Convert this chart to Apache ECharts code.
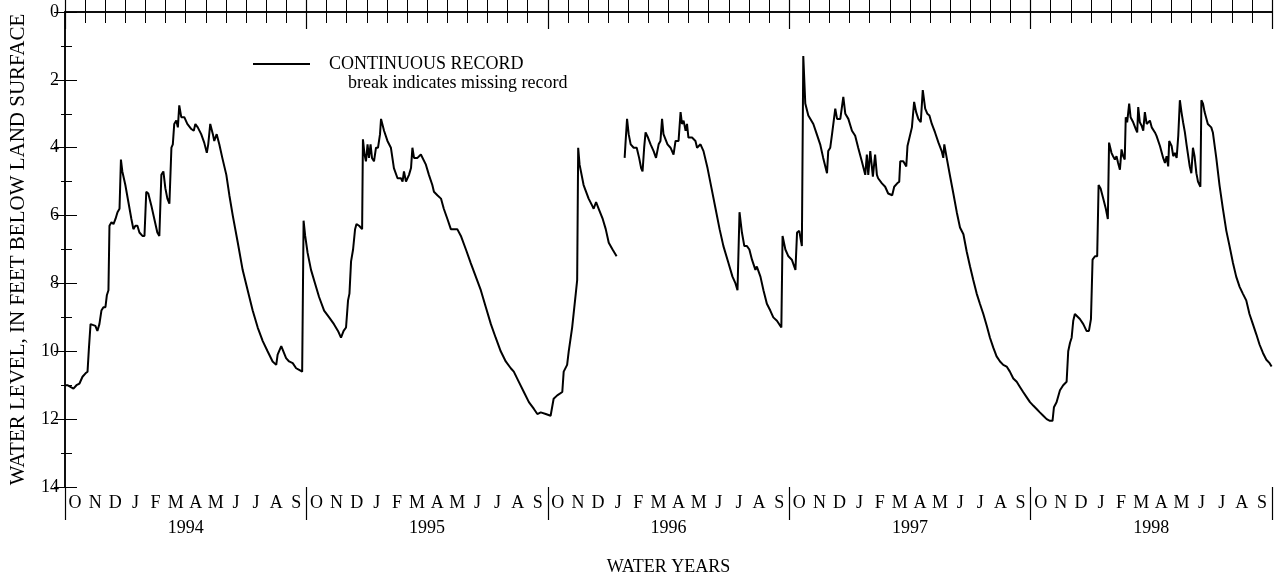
<!DOCTYPE html>
<html>
<head>
<meta charset="utf-8">
<script src="https://cdn.jsdelivr.net/npm/echarts@6/dist/echarts.min.js"></script>
<style>
html,body{margin:0;padding:0;background:#fff;}
#chart{width:1278px;height:581px;}
</style>
</head>
<body>
<div id="chart"></div>
<script>
// x = months since 1 Oct 1993 (start of water year 1994); y = feet below land surface
const monthLabels = ['O','N','D','J','F','M','A','M','J','J','A','S'];
const waterYears = ['1994','1995','1996','1997','1998'];
const yTicks = [0, 2, 4, 6, 8, 10, 12, 14];

const months1994 = [0.00,0.12,0.27,0.42,0.57,0.72,0.87,1.02,1.12,1.19,1.27,1.36,1.51,1.61,1.71,1.81,1.91,2.01,2.08,2.16,2.21,2.31,2.41,2.51,2.61,2.71,2.78,2.85,3.00,3.15,3.30,3.40,3.50,3.60,3.70,3.85,3.95,4.04,4.14,4.29,4.44,4.59,4.69,4.79,4.89,4.99,5.09,5.19,5.29,5.36,5.43,5.53,5.61,5.68,5.78,5.93,6.08,6.28,6.40,6.48,6.60,6.77,6.92,7.05,7.12,7.22,7.35,7.42,7.54,7.67,7.82,8.02,8.17,8.34,8.59,8.83,9.08,9.33,9.58,9.83,10.07,10.32,10.50,10.57,10.75,10.84,10.99,11.14,11.32,11.49,11.64,11.79,11.86];
const levels1994 = [11.0,11.0,11.05,11.1,11.0,10.95,10.75,10.65,10.6,9.9,9.2,9.15,9.25,9.4,9.2,8.8,8.7,8.7,8.35,8.2,6.3,6.2,6.25,6.1,5.9,5.8,4.35,4.7,5.1,5.6,6.1,6.4,6.3,6.3,6.5,6.6,6.6,5.3,5.35,5.7,6.1,6.5,6.6,4.8,4.7,5.2,5.5,5.65,4.0,3.9,3.3,3.2,3.4,2.75,3.1,3.1,3.3,3.45,3.5,3.3,3.4,3.6,3.85,4.15,3.9,3.3,3.6,3.8,3.6,3.9,4.3,4.8,5.4,6.0,6.8,7.6,8.2,8.8,9.3,9.7,10.0,10.3,10.4,10.1,9.85,9.9,10.2,10.3,10.35,10.5,10.55,10.6,6.15];

const months1995 = [11.94,12.06,12.23,12.43,12.63,12.88,13.13,13.37,13.57,13.72,13.85,13.97,14.07,14.14,14.22,14.32,14.42,14.49,14.62,14.77,14.81,14.89,14.96,15.04,15.11,15.19,15.26,15.36,15.46,15.56,15.66,15.71,15.86,16.03,16.20,16.35,16.53,16.70,16.78,16.85,16.95,17.02,17.10,17.20,17.27,17.35,17.52,17.69,17.77,17.94,18.09,18.26,18.34,18.51,18.69,18.83,19.01,19.18,19.33,19.50,19.68,19.93,20.17,20.42,20.67,20.92,21.17,21.41,21.66,21.91,22.16,22.31,22.56,22.81,23.06,23.31,23.48,23.65,23.90];
const levels1995 = [6.6,7.1,7.6,8.0,8.4,8.8,9.0,9.2,9.4,9.6,9.4,9.3,8.5,8.3,7.35,7.0,6.4,6.25,6.3,6.4,3.75,4.2,4.4,3.9,4.3,3.9,4.3,4.4,4.0,4.0,3.6,3.15,3.5,3.8,4.0,4.6,4.9,4.9,5.0,4.7,5.0,5.0,4.8,4.6,4.0,4.3,4.3,4.2,4.2,4.5,4.8,5.1,5.3,5.4,5.5,5.8,6.1,6.4,6.4,6.4,6.6,7.0,7.4,7.8,8.2,8.7,9.2,9.6,10.0,10.3,10.5,10.6,10.9,11.2,11.5,11.7,11.85,11.8,11.85];

// null marks the missing record (break in the line)
const months1996 = [24.14,24.29,24.47,24.72,24.79,24.96,25.04,25.21,25.39,25.46,25.51,25.58,25.78,26.03,26.20,26.28,26.40,26.53,26.73,26.88,27.03,27.22,27.42,27.60,27.82,27.87,27.94,28.02,28.12,28.27,28.42,28.54,28.64,28.71,28.79,28.86,28.98,29.11,29.26,29.38,29.51,29.60,29.68,29.75,29.95,30.10,30.25,30.35,30.50,30.60,30.67,30.75,30.85,30.92,30.99,31.17,31.34,31.42,31.59,31.74,31.94,32.14,32.34,32.54,32.73,32.98,33.18,33.33,33.43,33.53,33.65,33.77,33.90,34.02,34.15,34.32,34.39,34.57,34.72,34.89,35.06,35.21,35.39,35.61,35.67,35.81,35.96];
const levels1996 = [11.9,11.4,11.3,11.2,10.6,10.4,10.0,9.3,8.3,7.9,4.0,4.5,5.1,5.5,5.7,5.8,5.6,5.8,6.1,6.4,6.8,7.0,7.2,null,4.3,3.8,3.15,3.6,3.9,4.0,4.0,4.3,4.6,4.7,4.0,3.55,3.7,3.9,4.1,4.3,3.9,3.8,3.15,3.6,3.9,4.0,4.2,3.8,3.8,2.95,3.3,3.2,3.5,3.3,3.7,3.7,3.8,4.0,3.9,4.1,4.6,5.2,5.8,6.4,6.9,7.4,7.8,8.0,8.2,5.9,6.5,6.9,6.9,7.0,7.3,7.6,7.5,7.8,8.2,8.6,8.8,9.0,9.1,9.3,6.6,7.0,7.2];

const months1997 = [36.13,36.31,36.39,36.50,36.63,36.70,36.80,36.95,37.20,37.37,37.54,37.69,37.88,37.94,38.04,38.13,38.19,38.29,38.38,38.54,38.69,38.79,38.94,39.12,39.28,39.43,39.61,39.78,39.86,39.93,40.03,40.16,40.27,40.36,40.42,40.61,40.77,40.92,41.12,41.22,41.37,41.47,41.52,41.67,41.82,41.88,41.96,42.10,42.21,42.31,42.42,42.54,42.64,42.76,42.87,42.97,43.09,43.25,43.42,43.58,43.66,43.71,43.83,44.00,44.16,44.33,44.49,44.66,44.82,44.99,45.15,45.32,45.48,45.65,45.82,45.98,46.15,46.31,46.48,46.64,46.81,46.97,47.14,47.31,47.47,47.63,47.80,47.97];
const levels1997 = [7.3,7.6,6.5,6.45,6.9,1.3,2.7,3.05,3.3,3.6,3.9,4.3,4.75,4.1,4.0,3.6,3.6,2.85,3.15,3.15,2.5,3.0,3.15,3.5,3.65,4.0,4.4,4.8,4.2,4.8,4.1,4.85,4.2,4.8,4.9,5.05,5.15,5.35,5.4,5.15,5.05,5.0,4.4,4.4,4.55,3.95,3.9,3.4,2.65,2.95,3.15,3.25,2.3,2.85,3.0,3.05,3.3,3.55,3.85,4.1,4.3,3.9,4.3,4.85,5.35,5.9,6.35,6.55,7.05,7.5,7.9,8.3,8.6,8.9,9.25,9.6,9.9,10.15,10.3,10.4,10.45,10.6,10.8,10.9,11.05,11.2,11.35,11.5];

const months1998 = [48.13,48.30,48.46,48.63,48.80,48.96,49.09,49.16,49.29,49.46,49.62,49.79,49.87,49.96,50.04,50.12,50.20,50.29,50.45,50.62,50.78,50.90,51.00,51.08,51.20,51.31,51.38,51.48,51.61,51.74,51.84,51.90,52.02,52.10,52.19,52.27,52.35,52.44,52.52,52.60,52.68,52.73,52.80,52.90,52.97,53.10,53.23,53.30,53.35,53.43,53.52,53.60,53.68,53.77,53.85,53.93,54.02,54.10,54.18,54.26,54.43,54.59,54.68,54.76,54.84,54.89,55.01,55.09,55.17,55.26,55.34,55.42,55.50,55.58,55.67,55.75,55.91,55.99,56.07,56.15,56.24,56.32,56.44,56.49,56.57,56.65,56.81,56.98,57.06,57.23,57.39,57.56,57.73,57.89,58.06,58.22,58.39,58.55,58.72,58.88,59.05,59.22,59.38,59.55,59.72,59.88,59.98];
const levels1998 = [11.6,11.7,11.8,11.9,12.0,12.05,12.05,11.65,11.5,11.15,11.0,10.9,10.0,9.75,9.6,9.1,8.9,8.9,9.05,9.2,9.4,9.4,9.05,7.3,7.2,7.2,5.1,5.2,5.5,5.8,6.1,3.85,4.15,4.25,4.35,4.25,4.45,4.65,4.05,4.25,4.35,3.1,3.25,2.7,3.1,3.25,3.45,3.55,2.8,3.25,3.35,3.5,2.95,3.3,3.35,3.2,3.4,3.45,3.55,3.65,3.95,4.3,4.45,4.25,4.55,3.8,3.95,4.25,4.15,4.3,3.65,2.6,2.95,3.25,3.55,3.9,4.55,4.75,4.0,4.25,4.75,5.0,5.15,2.6,2.7,2.95,3.3,3.4,3.55,4.3,5.1,5.8,6.45,6.9,7.4,7.8,8.1,8.3,8.5,8.9,9.2,9.5,9.8,10.05,10.25,10.35,10.45];

const seriesName = 'CONTINUOUS RECORD';
const noteText = 'break indicates missing record';
const xTitle = 'WATER YEARS';
const yTitle = 'WATER LEVEL, IN FEET BELOW LAND SURFACE';

function pairs(ms, ls) { return ms.map((m, i) => [m, ls[i]]); }
const record = [].concat(
  pairs(months1994, levels1994), pairs(months1995, levels1995),
  pairs(months1996, levels1996), pairs(months1997, levels1997),
  pairs(months1998, levels1998));

const FONT = "'Liberation Serif', 'DejaVu Serif', serif";
const nMonths = waterYears.length * 12;
const black = '#000';

function baseX(extra) {
  return Object.assign({
    type: 'value', gridIndex: 0, min: 0, max: nMonths, position: 'bottom',
    axisLine: { show: false }, axisTick: { show: false },
    axisLabel: { show: false }, splitLine: { show: false }
  }, extra);
}

const chart = echarts.init(document.getElementById('chart'), null, { renderer: 'canvas' });
chart.setOption({
  animation: false,
  backgroundColor: '#fff',
  textStyle: { fontFamily: FONT, color: black },
  grid: { left: 63, right: 6, top: 12, bottom: 89, containLabel: false },
  legend: {
    data: [{ name: seriesName, icon: 'rect' }], left: 253, top: 55, padding: 0,
    itemWidth: 57, itemHeight: 2,
    itemStyle: { color: black, borderWidth: 0 },
    textStyle: { fontFamily: FONT, fontSize: 18, color: black, padding: [0, 0, 6, 14] }
  },
  graphic: [{
    type: 'text', left: 348, top: 74,
    style: { text: noteText, font: "18px 'Liberation Serif', serif", fill: black }
  }],
  xAxis: [
    baseX({ interval: 1,
      axisLine: { show: true, lineStyle: { color: black, width: 1.5 } },
      axisTick: { show: true, inside: true, length: 12, lineStyle: { color: black, width: 1 } },
      name: xTitle, nameLocation: 'middle', nameGap: 71,
      nameTextStyle: { fontFamily: FONT, fontSize: 18, color: black } }),
    baseX({ interval: 12,
      axisTick: { show: true, inside: true, length: 17, lineStyle: { color: black, width: 1.2 } } }),
    baseX({ interval: 12,
      axisTick: { show: true, inside: false, length: 33, lineStyle: { color: black, width: 1.2 } } }),
    baseX({ interval: 0.5,
      axisLabel: { show: true, margin: 7, fontFamily: FONT, fontSize: 18, color: black,
        formatter: v => (Math.abs(v % 1 - 0.5) < 1e-6) ? monthLabels[Math.floor(v) % 12] : '' } }),
    baseX({ interval: 6,
      axisLabel: { show: true, margin: 32, fontFamily: FONT, fontSize: 18, color: black,
        formatter: v => (v % 12 === 6) ? waterYears[Math.floor(v / 12)] : '' } }),
    baseX({ position: 'top', interval: 1,
      axisLine: { show: true, lineStyle: { color: black, width: 1.5 } },
      axisTick: { show: true, inside: true, length: 11, lineStyle: { color: black, width: 1 } } }),
    baseX({ position: 'top', interval: 12,
      axisTick: { show: true, inside: true, length: 17, lineStyle: { color: black, width: 1.2 } } })
  ],
  yAxis: [
    { type: 'value', inverse: true, min: yTicks[0], max: yTicks[yTicks.length - 1], interval: 2,
      position: 'left',
      axisLine: { show: true, lineStyle: { color: black, width: 1.5 } },
      axisTick: { show: true, inside: true, length: 12, lineStyle: { color: black, width: 1 } },
      minorTick: { show: true, splitNumber: 2, length: 7, lineStyle: { color: black, width: 1 } },
      axisLabel: { margin: 6, fontFamily: FONT, fontSize: 18, color: black },
      splitLine: { show: false },
      name: yTitle, nameLocation: 'middle', nameGap: 36,
      nameTextStyle: { fontFamily: FONT, fontSize: 21, color: black } },
    { type: 'value', inverse: true, min: yTicks[0], max: yTicks[yTicks.length - 1], interval: 2,
      position: 'right',
      axisLine: { show: true, lineStyle: { color: black, width: 1.5 } },
      axisTick: { show: true, inside: true, length: 11, lineStyle: { color: black, width: 1 } },
      minorTick: { show: true, splitNumber: 2, length: 4, lineStyle: { color: black, width: 1 } },
      axisLabel: { show: false }, splitLine: { show: false } }
  ],
  series: [{
    name: seriesName, type: 'line', xAxisIndex: 0, yAxisIndex: 0,
    data: record, symbol: 'none', showSymbol: false, connectNulls: false,
    lineStyle: { color: black, width: 2 }, itemStyle: { color: black }
  }]
});
</script>
</body>
</html>
